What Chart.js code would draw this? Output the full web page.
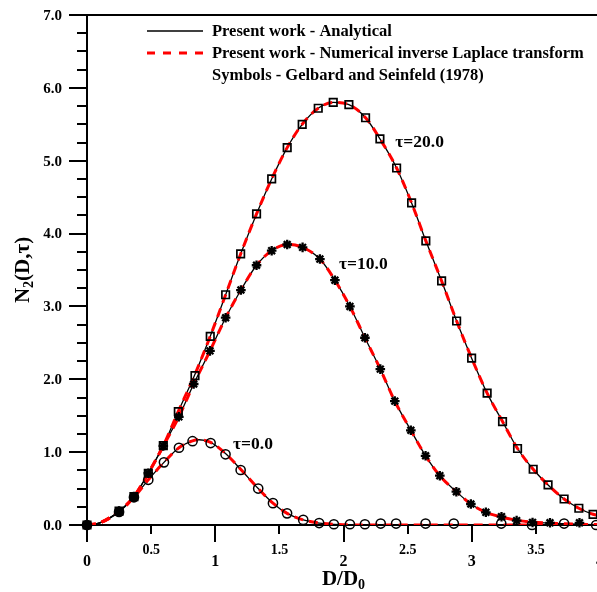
<!DOCTYPE html>
<html><head><meta charset="utf-8">
<script src="https://cdn.jsdelivr.net/npm/chart.js@4.4.0/dist/chart.umd.min.js"></script>
<style>html,body{margin:0;padding:0;overflow:hidden;background:#fff}#wrap{width:610px;height:592px}</style>
</head><body><div id="wrap"><canvas id="c" width="610" height="592"></canvas></div>
<script>
// ---- tick labels ----
const xTickValues = [0, 0.5, 1, 1.5, 2, 2.5, 3, 3.5, 4];
const xTickLabels = ['0', '0.5', '1', '1.5', '2', '2.5', '3', '3.5', '4'];
const yTickValues = [0, 1, 2, 3, 4, 5, 6, 7];
const yTickLabels = ['0.0', '1.0', '2.0', '3.0', '4.0', '5.0', '6.0', '7.0'];

// ---- curves (analytical / numerical inverse Laplace) ----
const lineD0 = [0, 0.1, 0.25, 0.366, 0.478, 0.6, 0.717, 0.823, 0.874, 0.964, 1.08, 1.198, 1.335, 1.45, 1.56, 1.686, 1.81, 1.925, 2.05, 2.3, 4.0];
const lineN0 = [0, 0.03, 0.18, 0.38, 0.62, 0.86, 1.06, 1.155, 1.17, 1.135, 0.98, 0.765, 0.50, 0.30, 0.16, 0.07, 0.027, 0.009, 0.002, 0, 0];
const lineD10 = [0, 0.1, 0.25, 0.366, 0.478, 0.595, 0.716, 0.832, 0.959, 1.081, 1.2, 1.322, 1.44, 1.561, 1.681, 1.816, 1.933, 2.05, 2.167, 2.287, 2.40, 2.525, 2.64, 2.751, 2.88, 2.993, 3.11, 3.232, 3.35, 3.474, 3.6, 3.835, 4.0];
const lineN10 = [0, 0.03, 0.19, 0.39, 0.71, 1.085, 1.485, 1.935, 2.39, 2.845, 3.225, 3.565, 3.765, 3.85, 3.81, 3.65, 3.36, 3.0, 2.57, 2.14, 1.70, 1.30, 0.95, 0.677, 0.457, 0.288, 0.174, 0.11, 0.065, 0.04, 0.025, 0.01, 0.005];
const lineD20 = [0, 0.1, 0.25, 0.366, 0.478, 0.595, 0.712, 0.842, 0.961, 1.081, 1.198, 1.322, 1.44, 1.561, 1.678, 1.803, 1.92, 2.042, 2.172, 2.284, 2.414, 2.531, 2.642, 2.765, 2.882, 2.999, 3.12, 3.24, 3.357, 3.479, 3.595, 3.72, 3.835, 3.946, 4.0];
const lineN20 = [0, 0.03, 0.19, 0.39, 0.71, 1.09, 1.56, 2.07, 2.59, 3.16, 3.72, 4.27, 4.75, 5.18, 5.5, 5.72, 5.8, 5.77, 5.59, 5.30, 4.9, 4.42, 3.90, 3.35, 2.80, 2.29, 1.81, 1.42, 1.05, 0.765, 0.55, 0.357, 0.23, 0.147, 0.125];

// ---- symbols: Gelbard and Seinfeld (1978) ----
const symD0 = [0, 0.25, 0.366, 0.478, 0.6, 0.717, 0.823, 0.964, 1.08, 1.198, 1.335, 1.45, 1.56, 1.686, 1.81, 1.925, 2.05, 2.167, 2.29, 2.41, 2.64, 2.86, 3.23, 3.47, 3.72, 3.97];
const symN0 = [0, 0.18, 0.38, 0.62, 0.86, 1.06, 1.15, 1.125, 0.97, 0.755, 0.50, 0.30, 0.16, 0.07, 0.027, 0.01, 0.01, 0.01, 0.02, 0.02, 0.02, 0.02, 0.02, 0, 0.02, 0];
const symD10 = [0, 0.25, 0.366, 0.478, 0.595, 0.716, 0.832, 0.959, 1.081, 1.2, 1.322, 1.44, 1.561, 1.681, 1.816, 1.933, 2.05, 2.167, 2.287, 2.40, 2.525, 2.64, 2.751, 2.88, 2.993, 3.11, 3.232, 3.35, 3.474, 3.61, 3.84];
const symN10 = [0, 0.19, 0.39, 0.71, 1.085, 1.485, 1.935, 2.39, 2.845, 3.225, 3.565, 3.765, 3.85, 3.81, 3.65, 3.36, 3.0, 2.57, 2.14, 1.70, 1.30, 0.95, 0.677, 0.457, 0.288, 0.174, 0.114, 0.06, 0.035, 0.03, 0.03];
const symD20 = [0, 0.25, 0.366, 0.478, 0.595, 0.712, 0.842, 0.961, 1.081, 1.198, 1.322, 1.44, 1.561, 1.678, 1.803, 1.92, 2.042, 2.172, 2.284, 2.414, 2.531, 2.642, 2.765, 2.882, 2.999, 3.12, 3.24, 3.357, 3.479, 3.595, 3.72, 3.835, 3.946];
const symN20 = [0, 0.19, 0.39, 0.71, 1.09, 1.555, 2.05, 2.59, 3.16, 3.72, 4.27, 4.75, 5.18, 5.5, 5.72, 5.8, 5.77, 5.59, 5.30, 4.9, 4.42, 3.90, 3.35, 2.80, 2.29, 1.81, 1.42, 1.05, 0.765, 0.55, 0.357, 0.23, 0.147];

// ---- text labels ----
const curveLabels = [
  {text: '\u03c4=20.0', d: 2.593, n: 5.25},
  {text: '\u03c4=10.0', d: 2.155, n: 3.58},
  {text: '\u03c4=0.0', d: 1.294, n: 1.10}
];
const legendTexts = ['Present work - Analytical', 'Present work - Numerical inverse Laplace transform', 'Symbols - Gelbard and Seinfeld (1978)'];

const FONT = '"Liberation Serif", "Times New Roman", serif';
const pts = (xs, ys) => xs.map((x, i) => ({x: x, y: ys[i]}));

function lineSets(xs, ys) {
  return [
    {data: pts(xs, ys), showLine: true, borderColor: '#000', borderWidth: 1.3, pointRadius: 0,
     cubicInterpolationMode: 'monotone', order: 3},
    {data: pts(xs, ys), showLine: true, borderColor: '#ff0000', borderWidth: 3, borderDash: [9, 6],
     pointRadius: 0, cubicInterpolationMode: 'monotone', order: 2}
  ];
}
function symSet(xs, ys, style, r, bw, filledCount) {
  return {data: pts(xs, ys), showLine: false, pointStyle: style, pointRadius: r,
    pointBorderWidth: bw, borderColor: '#000', pointBorderColor: '#000',
    pointBackgroundColor: ctx => (ctx.dataIndex < filledCount ? '#000' : 'rgba(0,0,0,0)'),
    backgroundColor: 'rgba(0,0,0,0)', order: 1, clip: false};
}

const deco = {
  id: 'deco',
  beforeDatasetsDraw(chart) {
    const ctx = chart.ctx, a = chart.chartArea, xs = chart.scales.x, ys = chart.scales.y;
    ctx.save();
    ctx.strokeStyle = '#000';
    ctx.lineWidth = 2;
    ctx.lineCap = 'butt';
    ctx.beginPath();
    ctx.moveTo(a.left, a.top); ctx.lineTo(a.right, a.top);
    ctx.moveTo(a.left, a.top); ctx.lineTo(a.left, a.bottom);
    ctx.moveTo(a.left, a.bottom); ctx.lineTo(a.right, a.bottom);
    ctx.moveTo(a.right, a.top); ctx.lineTo(a.right, a.bottom);
    ctx.stroke();
    // y ticks
    ctx.beginPath();
    for (let v = 0; v <= 7.0001; v += 0.25) {
      const y = Math.round(ys.getPixelForValue(v));
      const major = Math.abs(v - Math.round(v)) < 1e-6;
      ctx.moveTo(a.left, y); ctx.lineTo(a.left - (major ? 18 : 10), y);
    }
    // x ticks
    xTickValues.forEach(v => {
      const x = Math.round(xs.getPixelForValue(v));
      const major = Math.abs(v - Math.round(v)) < 1e-6;
      ctx.moveTo(x, a.bottom); ctx.lineTo(x, a.bottom + (major ? 17 : 9));
    });
    ctx.stroke();
    // tick labels
    ctx.fillStyle = '#000';
    ctx.textAlign = 'right';
    ctx.textBaseline = 'middle';
    ctx.font = 'bold 15px ' + FONT;
    yTickValues.forEach((v, i) => ctx.fillText(yTickLabels[i], a.left - 25, ys.getPixelForValue(v) + 1));
    ctx.textAlign = 'center';
    xTickValues.forEach((v, i) => {
      const major = Math.abs(v - Math.round(v)) < 1e-6;
      ctx.font = 'bold ' + (major ? 16 : 14) + 'px ' + FONT;
      ctx.fillText(xTickLabels[i], xs.getPixelForValue(v), a.bottom + (major ? 37 : 25));
    });
    ctx.restore();
  },
  afterDraw(chart) {
    const ctx = chart.ctx, a = chart.chartArea, xs = chart.scales.x, ys = chart.scales.y;
    ctx.save();
    ctx.fillStyle = '#000';
    ctx.textBaseline = 'middle';
    // curve labels
    ctx.font = 'bold 17.5px ' + FONT;
    ctx.textAlign = 'center';
    curveLabels.forEach(l => ctx.fillText(l.text, xs.getPixelForValue(l.d), ys.getPixelForValue(l.n)));
    // legend
    const lx0 = 147, lx1 = 203, tx = 212, rows = [31, 53, 75];
    ctx.lineWidth = 1.3; ctx.strokeStyle = '#000';
    ctx.beginPath(); ctx.moveTo(lx0, rows[0]); ctx.lineTo(lx1, rows[0]); ctx.stroke();
    ctx.lineWidth = 3; ctx.strokeStyle = '#ff0000'; ctx.setLineDash([8, 8]);
    ctx.beginPath(); ctx.moveTo(lx0, rows[1]); ctx.lineTo(lx1, rows[1]); ctx.stroke();
    ctx.setLineDash([]);
    ctx.textAlign = 'left';
    ctx.font = 'bold 16.5px ' + FONT;
    legendTexts.forEach((t, i) => ctx.fillText(t, tx, rows[i] + 1));
    // x title  D/D0
    const cx = (a.left + a.right) / 2, ty = 580;
    ctx.font = 'bold 21px ' + FONT;
    const w1 = ctx.measureText('D/D').width;
    ctx.font = 'bold 14px ' + FONT;
    const w2 = ctx.measureText('0').width;
    let x = cx - (w1 + w2) / 2;
    ctx.font = 'bold 21px ' + FONT;
    ctx.fillText('D/D', x, ty);
    ctx.font = 'bold 14px ' + FONT;
    ctx.fillText('0', x + w1, ty + 5);
    // y title  N2(D,tau)
    ctx.translate(24, (a.top + a.bottom) / 2);
    ctx.rotate(-Math.PI / 2);
    const parts = [['N', 21, 0], ['2', 14, 5], ['(D,\u03c4)', 21, 0]];
    let tw = 0;
    parts.forEach(p => { ctx.font = 'bold ' + p[1] + 'px ' + FONT; tw += ctx.measureText(p[0]).width; });
    let px = -tw / 2;
    parts.forEach(p => { ctx.font = 'bold ' + p[1] + 'px ' + FONT; ctx.fillText(p[0], px, p[2]); px += ctx.measureText(p[0]).width; });
    ctx.restore();
  }
};

new Chart(document.getElementById('c'), {
  type: 'scatter',
  data: {
    datasets: [
      ...lineSets(lineD20, lineN20),
      ...lineSets(lineD10, lineN10),
      ...lineSets(lineD0, lineN0),
      symSet(symD20, symN20, 'rect', 5.3, 1.7, 0),
      symSet(symD10, symN10, 'star', 4.8, 2.3, 0),
      symSet(symD0, symN0, 'circle', 4.6, 1.5, 3)
    ]
  },
  options: {
    responsive: false,
    animation: false,
    devicePixelRatio: 1,
    layout: {padding: {left: 87, top: 15, right: 10, bottom: 67}},
    plugins: {legend: {display: false}, tooltip: {enabled: false}},
    scales: {
      x: {type: 'linear', min: 0, max: 4, display: false},
      y: {type: 'linear', min: 0, max: 7, display: false}
    }
  },
  plugins: [deco]
});
</script>
</body></html>
